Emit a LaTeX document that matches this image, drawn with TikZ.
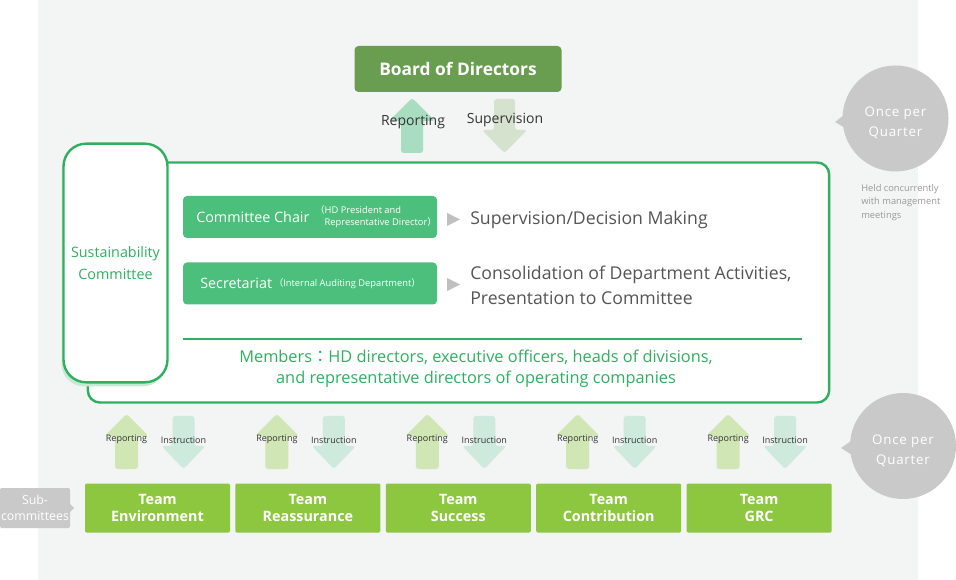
\documentclass[tikz,border=0pt]{standalone}
\usepackage{fontspec}
\setmainfont{Open Sans}
\newfontfamily\cjk{Noto Sans CJK JP}
\usetikzlibrary{positioning}

\definecolor{panelgray}{HTML}{F3F4F4}
\definecolor{boardgreen}{HTML}{699E50}
\definecolor{linegreen}{HTML}{2EB060}
\definecolor{boxgreen}{HTML}{4CBF7C}
\definecolor{teamgreen}{HTML}{8DC63F}
\definecolor{shadowgreen}{HTML}{C6E9D4}
\definecolor{uparrow}{HTML}{D0E6B5}
\definecolor{downarrow}{HTML}{CDEADC}
\definecolor{repup}{HTML}{A8DDC1}
\definecolor{supdown}{HTML}{D5E2CD}
\definecolor{bubblegray}{HTML}{C9C9C9}
\definecolor{textgray}{HTML}{555555}
\definecolor{notegray}{HTML}{999999}

\tikzset{
  boardbox/.style={fill=boardgreen, rounded corners=3pt, text=white, minimum width=155.25pt, minimum height=34.5pt,
    font=\fontsize{13}{16}\selectfont\bfseries},
  susbox/.style={draw=linegreen, line width=1.8pt, fill=white, rounded corners=17pt, minimum width=78pt, minimum height=179pt},
  rolebox/.style={fill=boxgreen, rounded corners=3pt, minimum width=190.5pt, minimum height=31.5pt},
  rolelabel/.style={text=white, inner sep=0pt, font=\fontsize{10.75}{13}\selectfont},
  rolenote/.style={text=white, inner sep=0pt, align=left, font=\fontsize{7}{9}\selectfont},
  teambox/.style={fill=teamgreen, text=white, rounded corners=1pt, minimum width=108.75pt, minimum height=36.75pt,
    align=center, font=\fontsize{10.75}{12.75}\selectfont\bfseries},
  bubble/.style={circle, fill=bubblegray, minimum size=79.5pt, inner sep=0pt},
  bubbletext/.style={text=white, align=center, inner sep=0pt,
    font=\fontsize{10}{15}\selectfont\addfontfeature{LetterSpace=6}},
  smalllabel/.style={text=black!80, font=\fontsize{6.75}{8}\selectfont},
  toplabel/.style={text=black!80, font=\fontsize{10.5}{11}\selectfont},
  tri/.style={fill=black!25},
}

\begin{document}
\begin{tikzpicture}[x=0.75pt, y=-0.75pt]
\useasboundingbox (0,0) rectangle (956,580);
\fill[white] (0,0) rectangle (956,580);
\fill[panelgray] (38,0) rectangle (918,580);

% board and its arrows
\node[boardbox] (board) at (458,69) {Board of Directors};
\fill[repup, rounded corners=2pt] (412,98) -- (435,121) -- (423,121) -- (423,153) -- (401,153) -- (401,121) -- (389,121) -- cycle;
\fill[supdown, rounded corners=2pt] (494,99) -- (515,99) -- (515,130) -- (527,130) -- (504.5,153) -- (482,130) -- (494,130) -- cycle;
\node[toplabel] (rep) at (413,122) {Reporting};
\node[toplabel] (sup) at (505,120) {Supervision};

% committee
\node[draw=linegreen, line width=1.8pt, fill=white, rounded corners=9pt, minimum width=556pt, minimum height=180pt] (main) at (458.5,282.5) {};
\node[susbox, draw=none, fill=shadowgreen] (susshadow) at (113.5,267) {};
\node[susbox, text=linegreen, align=center, font=\fontsize{10.75}{16.5}\selectfont] (sus) at (115.5,263) {Sustainability\\Committee};

\node[rolebox] (chair) at (310,217) {};
\node[rolelabel, anchor=west] (chairlbl) at (196,217) {Committee Chair};
\node[rolenote, right=4pt of chairlbl] (chairnote) {{\cjk （}HD President and\\\hspace{7pt}Representative Director{\cjk ）}};
\node[rolebox] (secr) at (310,283.5) {};
\node[rolelabel, anchor=west] (secrlbl) at (200,283.5) {Secretariat};
\node[rolenote, right=1pt of secrlbl] (secrnote) {{\cjk （}Internal Auditing Department{\cjk ）}};

\fill[tri] (447,213) -- (460,219.5) -- (447,226) -- cycle;
\fill[tri] (447,278) -- (460,284.5) -- (447,291) -- cycle;
\node[anchor=west, text=textgray, font=\fontsize{13.25}{18.5}\selectfont, inner sep=0pt] (decide) at (470,219.5) {Supervision/Decision Making};
\node[anchor=west, text=textgray, font=\fontsize{13.25}{18.5}\selectfont, align=left, inner sep=0pt] (consol) at (470,285.5) {Consolidation of Department Activities,\\Presentation to Committee};

\draw[linegreen, line width=2pt] (183,339) -- (802,339);
\node[text=linegreen, align=center, font=\fontsize{12.25}{16}\selectfont] (members) at (476,369) {Members{\cjk ：}HD directors, executive officers, heads of divisions,\\and representative directors of operating companies};

% frequency bubbles
\node[bubble] (once1) at (895.5,118.5) {};
\node[bubbletext] (once1txt) at (895.5,123) {Once per\\Quarter};
\fill[bubblegray] (844,115) -- (835,122) -- (845,128) -- cycle;
\node[anchor=north west, text=notegray, align=left, inner sep=0pt, font=\fontsize{7}{10.1}\selectfont] (held) at (861,184) {Held concurrently\\with management\\meetings};
\node[bubble] (once2) at (903,446) {};
\node[bubbletext] (once2txt) at (903,451) {Once per\\Quarter};
\fill[bubblegray] (851,441) -- (841,448) -- (852,455) -- cycle;

% teams
\foreach \t [count=\i from 0] in {Environment,Reassurance,Success,Contribution,GRC}{
  \pgfmathsetmacro\tx{157.5+150.4*\i}
  \pgfmathsetmacro\ux{126.5+150.4*\i}
  \pgfmathsetmacro\dx{183.5+150.4*\i}
  \fill[uparrow, rounded corners=2pt] (\ux,414) -- (\ux+22,436) -- (\ux+11.5,436) -- (\ux+11.5,469) -- (\ux-11.5,469) -- (\ux-11.5,436) -- (\ux-22,436) -- cycle;
  \fill[downarrow, rounded corners=2pt] (\dx-11,416) -- (\dx+11,416) -- (\dx+11,446) -- (\dx+22,446) -- (\dx,469) -- (\dx-22,446) -- (\dx-11,446) -- cycle;
  \node[smalllabel] (rep\i) at (\ux,439) {Reporting};
  \node[smalllabel] (ins\i) at (\dx,440) {Instruction};
  \node[teambox] (team\i) at (\tx,508) {Team\\\t};
}

\node[fill=bubblegray, rounded corners=1pt, text=white, align=center, minimum width=52.5pt, minimum height=30pt, inner sep=0pt,
  font=\fontsize{9.25}{12}\selectfont] (subc) at (35,508) {Sub-\\committees};
\fill[bubblegray] (69,503) -- (74,508) -- (69,513) -- cycle;
\end{tikzpicture}
\end{document}
